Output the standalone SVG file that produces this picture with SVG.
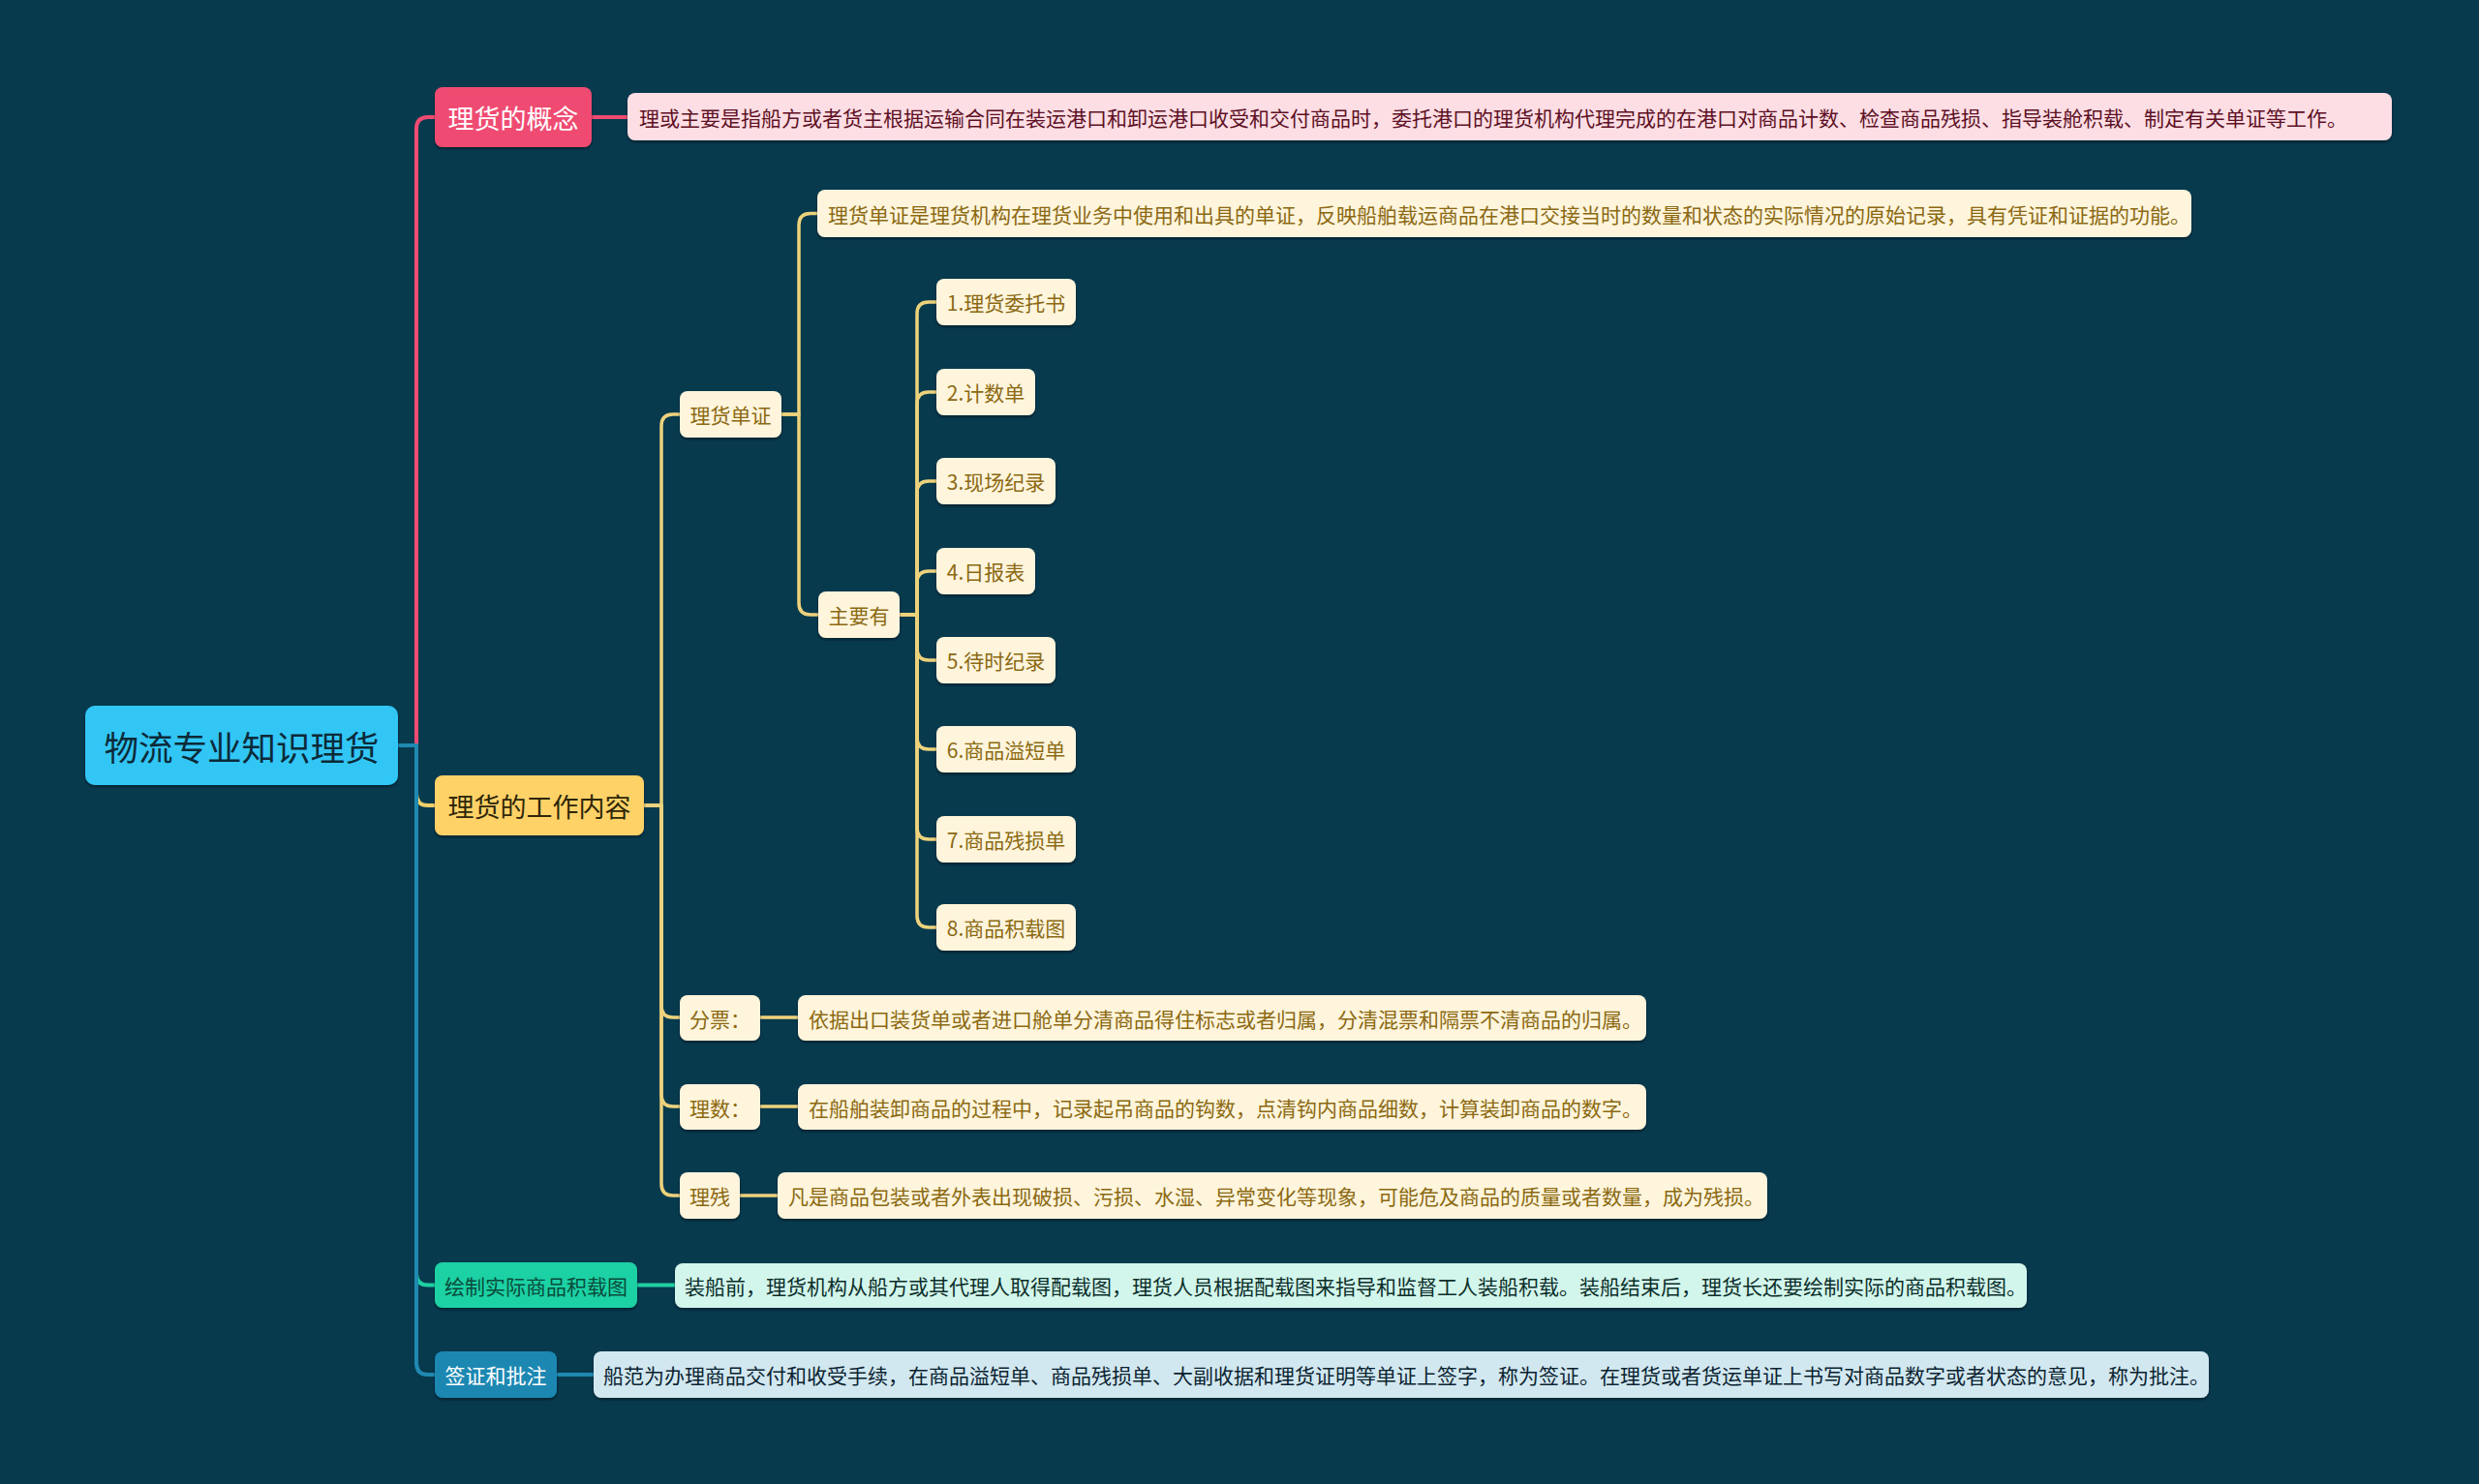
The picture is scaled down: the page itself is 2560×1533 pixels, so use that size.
<svg xmlns="http://www.w3.org/2000/svg" width="2560" height="1533" viewBox="0 0 2560 1533">
<defs>
<filter id="sh" x="-5%" y="-20%" width="110%" height="150%">
<feDropShadow dx="0" dy="2" stdDeviation="1" flood-color="#021820" flood-opacity="0.6"/>
</filter>
</defs>
<style>
text{font-family:"Noto Sans CJK SC","Microsoft YaHei","Noto Sans",sans-serif;dominant-baseline:central}
.c{text-anchor:middle}
.box{filter:url(#sh)}
.ln{fill:none;stroke-linecap:round;stroke-linejoin:round}
.pk{stroke:#EF4B72;stroke-width:4}
.yl{stroke:#F2D06A;stroke-width:4}
.yl2{stroke:#EDD27C;stroke-width:3.5}
.tl{stroke:#1FD1A3;stroke-width:4}
.bl{stroke:#1F89B1;stroke-width:4}
.cream{fill:#FFF5DC}
.gold{fill:#8B6912;font-size:21px}
.t21{font-size:21px}
</style>
<rect x="0" y="0" width="2560" height="1533" fill="#073A4D"/>

<g id="connectors">
<path class="ln pk" d="M411 770 H430 V133 Q430 121 442 121 H449"/>
<path class="ln pk" d="M611 121 H648"/>
<path class="ln yl" d="M411 770 H430 V820 Q430 832 442 832 H449"/>
<path class="ln tl" d="M411 770 H430 V1315.5 Q430 1327.5 442 1327.5 H449"/>
<path class="ln tl" d="M658 1327.5 H697"/>
<path class="ln bl" d="M411 770 H430 V1408 Q430 1420 442 1420 H449"/>
<path class="ln bl" d="M575 1420 H613"/>
<path class="ln yl2" d="M665 832 H683 V440 Q683 428 695 428 H702"/>
<path class="ln yl2" d="M665 832 H683 V1039 Q683 1051 695 1051 H702"/>
<path class="ln yl2" d="M665 832 H683 V1131 Q683 1143 695 1143 H702"/>
<path class="ln yl2" d="M665 832 H683 V1223 Q683 1235 695 1235 H702"/>
<path class="ln yl2" d="M785 1051 H824"/>
<path class="ln yl2" d="M785 1143 H824"/>
<path class="ln yl2" d="M764 1235 H803"/>
<path class="ln yl2" d="M807 428 H825 V232.5 Q825 220.5 837 220.5 H844"/>
<path class="ln yl2" d="M807 428 H825 V623 Q825 635 837 635 H845"/>
<path class="ln yl2" d="M929 635 H947 V324 Q947 312 959 312 H967"/>
<path class="ln yl2" d="M929 635 H947 V417 Q947 405 959 405 H967"/>
<path class="ln yl2" d="M929 635 H947 V509 Q947 497 959 497 H967"/>
<path class="ln yl2" d="M929 635 H947 V602 Q947 590 959 590 H967"/>
<path class="ln yl2" d="M929 635 H947 V670 Q947 682 959 682 H967"/>
<path class="ln yl2" d="M929 635 H947 V762 Q947 774 959 774 H967"/>
<path class="ln yl2" d="M929 635 H947 V855 Q947 867 959 867 H967"/>
<path class="ln yl2" d="M929 635 H947 V946 Q947 958 959 958 H967"/>
</g>

<g id="root">
<rect class="box" x="88" y="729" width="323" height="82" rx="10" fill="#30C6F5"/>
<text class="c" x="249.5" y="770" font-size="35.5" fill="#0C2A38">物流专业知识理货</text>
</g>

<g id="n-concept">
<rect class="box" x="449" y="90" width="162" height="62" rx="8" fill="#EF4B72"/>
<text class="c" x="530" y="121" font-size="27" fill="#FFFFFF">理货的概念</text>
</g>
<g id="n-concept-desc">
<rect class="box" x="648" y="96" width="1822" height="49" rx="8" fill="#FDDEE4"/>
<text class="t21" x="660" y="120.5" fill="#5E1025">理或主要是指船方或者货主根据运输合同在装运港口和卸运港口收受和交付商品时，委托港口的理货机构代理完成的在港口对商品计数、检查商品残损、指导装舱积载、制定有关单证等工作。</text>
</g>

<g id="n-work">
<rect class="box" x="449" y="801" width="216" height="62" rx="8" fill="#FFD268"/>
<text class="c" x="557" y="832" font-size="27" fill="#2E2608">理货的工作内容</text>
</g>

<g id="n-doc">
<rect class="box cream" x="702" y="404" width="105" height="48" rx="8"/>
<text class="c gold" x="754.5" y="428">理货单证</text>
</g>
<g id="n-doc-desc">
<rect class="box cream" x="844" y="196" width="1419" height="49" rx="8"/>
<text class="gold" x="855" y="220.5">理货单证是理货机构在理货业务中使用和出具的单证，反映船舶载运商品在港口交接当时的数量和状态的实际情况的原始记录，具有凭证和证据的功能。</text>
</g>
<g id="n-main">
<rect class="box cream" x="845" y="611" width="84" height="48" rx="8"/>
<text class="c gold" x="887" y="635">主要有</text>
</g>

<g id="n-i1"><rect class="box cream" x="967" y="288" width="144" height="48" rx="8"/><text class="c gold" x="1039" y="312">1.理货委托书</text></g>
<g id="n-i2"><rect class="box cream" x="967" y="381" width="102" height="48" rx="8"/><text class="c gold" x="1018" y="405">2.计数单</text></g>
<g id="n-i3"><rect class="box cream" x="967" y="473" width="123" height="48" rx="8"/><text class="c gold" x="1028.5" y="497">3.现场纪录</text></g>
<g id="n-i4"><rect class="box cream" x="967" y="566" width="102" height="48" rx="8"/><text class="c gold" x="1018" y="590">4.日报表</text></g>
<g id="n-i5"><rect class="box cream" x="967" y="658" width="123" height="48" rx="8"/><text class="c gold" x="1028.5" y="682">5.待时纪录</text></g>
<g id="n-i6"><rect class="box cream" x="967" y="750" width="144" height="48" rx="8"/><text class="c gold" x="1039" y="774">6.商品溢短单</text></g>
<g id="n-i7"><rect class="box cream" x="967" y="843" width="144" height="48" rx="8"/><text class="c gold" x="1039" y="867">7.商品残损单</text></g>
<g id="n-i8"><rect class="box cream" x="967" y="934" width="144" height="48" rx="8"/><text class="c gold" x="1039" y="958">8.商品积载图</text></g>

<g id="n-fenpiao">
<rect class="box cream" x="702" y="1028" width="83" height="47" rx="8"/>
<text class="gold" x="712" y="1051.5">分票：</text>
</g>
<g id="n-fenpiao-desc">
<rect class="box cream" x="824" y="1028" width="876" height="47" rx="8"/>
<text class="gold" x="835" y="1051.5">依据出口装货单或者进口舱单分清商品得住标志或者归属，分清混票和隔票不清商品的归属。</text>
</g>
<g id="n-lishu">
<rect class="box cream" x="702" y="1120" width="83" height="47" rx="8"/>
<text class="gold" x="712" y="1143.5">理数：</text>
</g>
<g id="n-lishu-desc">
<rect class="box cream" x="824" y="1120" width="876" height="47" rx="8"/>
<text class="gold" x="835" y="1143.5">在船舶装卸商品的过程中，记录起吊商品的钩数，点清钩内商品细数，计算装卸商品的数字。</text>
</g>
<g id="n-lican">
<rect class="box cream" x="702" y="1211" width="62" height="48" rx="8"/>
<text class="c gold" x="733" y="1235">理残</text>
</g>
<g id="n-lican-desc">
<rect class="box cream" x="803" y="1211" width="1022" height="48" rx="8"/>
<text class="gold" x="814" y="1235">凡是商品包装或者外表出现破损、污损、水湿、异常变化等现象，可能危及商品的质量或者数量，成为残损。</text>
</g>

<g id="n-draw">
<rect class="box" x="449" y="1304" width="209" height="47" rx="8" fill="#1FD1A3"/>
<text class="c t21" x="553.5" y="1327.5" fill="#0A4A3B">绘制实际商品积载图</text>
</g>
<g id="n-draw-desc">
<rect class="box" x="697" y="1305" width="1396" height="46" rx="8" fill="#D3F6EC"/>
<text class="t21" x="707" y="1328" fill="#0B2E2A">装船前，理货机构从船方或其代理人取得配载图，理货人员根据配载图来指导和监督工人装船积载。装船结束后，理货长还要绘制实际的商品积载图。</text>
</g>

<g id="n-sign">
<rect class="box" x="449" y="1396" width="126" height="48" rx="8" fill="#1A88B2"/>
<text class="c t21" x="512" y="1420" fill="#FFFFFF">签证和批注</text>
</g>
<g id="n-sign-desc">
<rect class="box" x="613" y="1396" width="1668" height="48" rx="8" fill="#D2E8F0"/>
<text class="t21" x="623" y="1420" fill="#0B2331">船范为办理商品交付和收受手续，在商品溢短单、商品残损单、大副收据和理货证明等单证上签字，称为签证。在理货或者货运单证上书写对商品数字或者状态的意见，称为批注。</text>
</g>
</svg>
